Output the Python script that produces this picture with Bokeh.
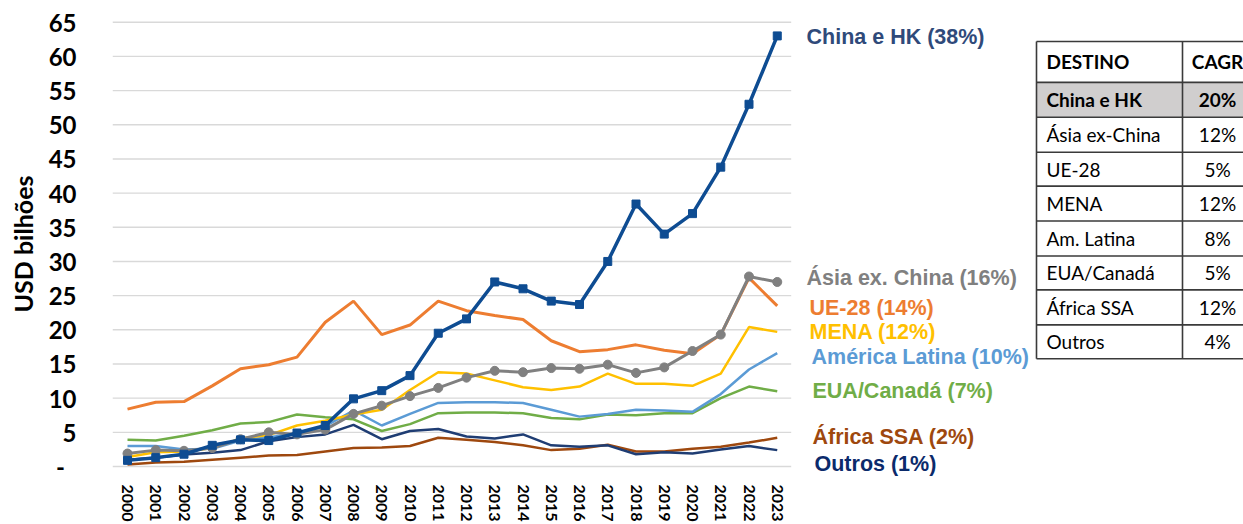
from bokeh.plotting import figure
from bokeh.models import Range1d, FixedTicker, Label, ColumnDataSource
from bokeh.embed import file_html
from bokeh.resources import INLINE
from bokeh.core.properties import value

# ---------------- data ----------------
years = [str(y) for y in range(2000, 2024)]

china = [0.9, 1.3, 1.8, 3.1, 3.9, 3.8, 4.9, 6.0, 9.9, 11.1, 13.3, 19.5, 21.6, 27.0, 26.0, 24.2,
         23.7, 30.0, 38.4, 34.0, 37.0, 43.8, 53.0, 63.0]
asia = [1.9, 2.4, 2.3, 2.7, 4.0, 5.0, 4.7, 5.4, 7.7, 8.9, 10.3, 11.5, 13.0, 14.0, 13.8, 14.4,
        14.3, 14.9, 13.7, 14.5, 16.9, 19.3, 27.8, 27.0]
ue28 = [8.4, 9.4, 9.5, 11.8, 14.3, 14.9, 16.0, 21.1, 24.2, 19.3, 20.7, 24.2, 22.8, 22.1, 21.5, 18.4,
        16.8, 17.1, 17.8, 17.0, 16.5, 19.3, 27.6, 23.5]
mena = [1.4, 2.1, 2.2, 2.7, 4.1, 4.6, 6.0, 6.7, 7.6, 8.3, 11.2, 13.8, 13.6, 12.6, 11.6, 11.2,
        11.7, 13.6, 12.1, 12.1, 11.8, 13.6, 20.4, 19.7]
amlat = [3.0, 3.0, 2.5, 2.6, 3.8, 4.3, 4.8, 5.9, 8.2, 6.0, 7.7, 9.3, 9.4, 9.4, 9.3, 8.3,
         7.3, 7.7, 8.3, 8.2, 8.0, 10.6, 14.2, 16.6]
eua = [3.9, 3.8, 4.5, 5.3, 6.3, 6.5, 7.6, 7.2, 6.9, 5.2, 6.2, 7.8, 7.9, 7.9, 7.8, 7.1,
       6.9, 7.6, 7.5, 7.8, 7.8, 10.0, 11.7, 11.0]
africa = [0.3, 0.6, 0.7, 1.0, 1.3, 1.6, 1.7, 2.2, 2.7, 2.8, 3.0, 4.2, 3.9, 3.6, 3.1, 2.4,
          2.6, 3.2, 2.2, 2.2, 2.6, 2.9, 3.5, 4.2]
outros = [1.0, 1.3, 1.75, 2.0, 2.4, 3.7, 4.3, 4.7, 6.1, 4.0, 5.2, 5.5, 4.4, 4.1, 4.7, 3.1,
          2.9, 3.1, 1.8, 2.1, 1.9, 2.5, 3.0, 2.4]

series_labels = ["China e HK (38%)", "Ásia ex. China (16%)", "UE-28 (14%)", "MENA (12%)",
                 "América Latina (10%)", "EUA/Canadá (7%)", "África SSA (2%)", "Outros (1%)"]

y_ticks = [0, 5, 10, 15, 20, 25, 30, 35, 40, 45, 50, 55, 60, 65]

table_header = ["DESTINO", "CAGR"]
table_dest = ["China e HK", "Ásia ex-China", "UE-28", "MENA", "Am. Latina", "EUA/Canadá",
              "África SSA", "Outros"]
table_cagr = ["20%", "12%", "5%", "12%", "8%", "5%", "12%", "4%"]

# ---------------- geometry (page pixels; the page has no margin) ----------------
W, H = 1243, 524
PX_X0, PX_YR = 127.0, 28.25      # x pixel of first year, pixels per year
PX_Y0, PX_U = 467.0, 6.85        # y pixel of value 0, pixels per unit
FRAME_L, FRAME_T, FRAME_B = 112, 11, 477


def dx(px):
    return (px - PX_X0) / PX_YR


def dy(py):
    return (PX_Y0 - py) / PX_U


p = figure(width=W, height=H, output_backend="svg", toolbar_location=None,
           x_range=Range1d(dx(FRAME_L), dx(W)),
           y_range=Range1d(dy(FRAME_B), dy(FRAME_T)),
           min_border_left=FRAME_L, min_border_right=0,
           min_border_top=FRAME_T, min_border_bottom=H - FRAME_B)
p.outline_line_color = None
p.grid.visible = False
p.background_fill_color = "white"
p.border_fill_color = "white"

AX_FONT = "Lato"

# gridlines only across the chart area
p.segment(x0=[dx(112)] * len(y_ticks), x1=[dx(790.7)] * len(y_ticks), y0=y_ticks, y1=y_ticks,
          line_color="#D9D9D9", line_width=1.4)

# axes
p.xaxis.ticker = FixedTicker(ticks=list(range(len(years))))
p.xaxis.major_label_overrides = {i: y for i, y in enumerate(years)}
p.xaxis.major_label_orientation = "vertical"
p.xaxis.major_label_text_font = AX_FONT
p.xaxis.major_label_text_font_style = "bold"
p.xaxis.major_label_text_font_size = "16px"
p.xaxis.major_label_text_color = "black"
p.xaxis.major_label_standoff = 2
p.xaxis.axis_line_color = None
p.xaxis.major_tick_line_color = None
p.xaxis.minor_tick_line_color = None

p.yaxis.ticker = FixedTicker(ticks=y_ticks)
p.yaxis.major_label_overrides = {0: "-\u00a0\u00a0"}
p.yaxis.major_label_text_font = AX_FONT
p.yaxis.major_label_text_font_style = "bold"
p.yaxis.major_label_text_font_size = "24px"
p.yaxis.major_label_text_color = "black"
p.yaxis.major_label_standoff = 30
p.yaxis.axis_line_color = None
p.yaxis.major_tick_line_color = None
p.yaxis.minor_tick_line_color = None
p.yaxis.axis_label = "USD bilhões"
p.yaxis.axis_label_text_font = AX_FONT
p.yaxis.axis_label_text_font_style = "bold"
p.yaxis.axis_label_text_font_size = "25px"
p.yaxis.axis_label_text_color = "black"
p.yaxis.axis_label_standoff = 8

# ---------------- series ----------------
xs = list(range(len(years)))
src = ColumnDataSource(dict(x=xs, china=china, asia=asia, ue28=ue28, mena=mena, amlat=amlat,
                            eua=eua, africa=africa, outros=outros))

p.line("x", "africa", source=src, line_color="#9E480E", line_width=2.5)
p.line("x", "outros", source=src, line_color="#1F3D73", line_width=2.5)
p.line("x", "eua", source=src, line_color="#70AD47", line_width=2.5)
p.line("x", "amlat", source=src, line_color="#5B9BD5", line_width=2.5)
p.line("x", "mena", source=src, line_color="#FFC000", line_width=2.5)
p.line("x", "ue28", source=src, line_color="#ED7D31", line_width=3)
p.line("x", "asia", source=src, line_color="#808080", line_width=3)
p.scatter("x", "asia", source=src, marker="circle", size=9, fill_color="#808080", line_color="#808080")
p.line("x", "china", source=src, line_color="#0E4C92", line_width=3.5)
p.scatter("x", "china", source=src, marker="square", size=8, fill_color="#0E4C92", line_color="#0E4C92")

# ---------------- series labels ----------------
label_colors = ["#2F4A7A", "#808080", "#ED7D31", "#FFC000", "#5B9BD5", "#70AD47", "#9E480E", "#0B2A6B"]
label_pos = [(806, 36.5), (806, 278), (809, 308), (809, 332), (811, 357), (812, 391), (812, 437), (814, 464)]
for txt, col, (lx, ly) in zip(series_labels, label_colors, label_pos):
    p.add_layout(Label(x=dx(lx), y=dy(ly), text=txt, text_font="Liberation Sans", text_font_style="bold",
                       text_font_size="21.5px", text_color=col, text_baseline="middle", text_align="left"))

# ---------------- table ----------------
T_L, T_C, T_R = 1036, 1182, 1262
rows = [41, 82, 117, 152, 186, 221, 256, 290, 325, 359]

p.quad(left=[dx(T_L)], right=[dx(T_R)], top=[dy(rows[1])], bottom=[dy(rows[2])],
       fill_color="#D0CECE", line_color=None)
p.segment(x0=[dx(T_L)] * len(rows), x1=[dx(T_R)] * len(rows), y0=[dy(r) for r in rows],
          y1=[dy(r) for r in rows], line_color="#3A3A3A", line_width=1.6)
p.segment(x0=[dx(T_L), dx(T_C)], x1=[dx(T_L), dx(T_C)], y0=[dy(rows[0])] * 2, y1=[dy(rows[-1])] * 2,
          line_color="#3A3A3A", line_width=1.6)

centers = [(rows[i] + rows[i + 1]) / 2 for i in range(len(rows) - 1)]
col1 = [table_header[0]] + table_dest
col2 = [table_header[1]] + table_cagr
bold_idx = [0, 1]
norm_idx = list(range(2, len(col1)))
for idxs, style in ((bold_idx, "bold"), (norm_idx, "normal")):
    p.text(x=[dx(1046)] * len(idxs), y=[dy(centers[i]) for i in idxs], text=[col1[i] for i in idxs],
           text_font=value(AX_FONT), text_font_style=style, text_font_size="19px",
           text_color="black", text_baseline="middle", text_align="left")
    p.text(x=[dx(1217)] * len(idxs), y=[dy(centers[i]) for i in idxs], text=[col2[i] for i in idxs],
           text_font=value(AX_FONT), text_font_style=style, text_font_size="19px",
           text_color="black", text_baseline="middle", text_align="center")

open("out.html", "w").write(file_html(p, INLINE))
